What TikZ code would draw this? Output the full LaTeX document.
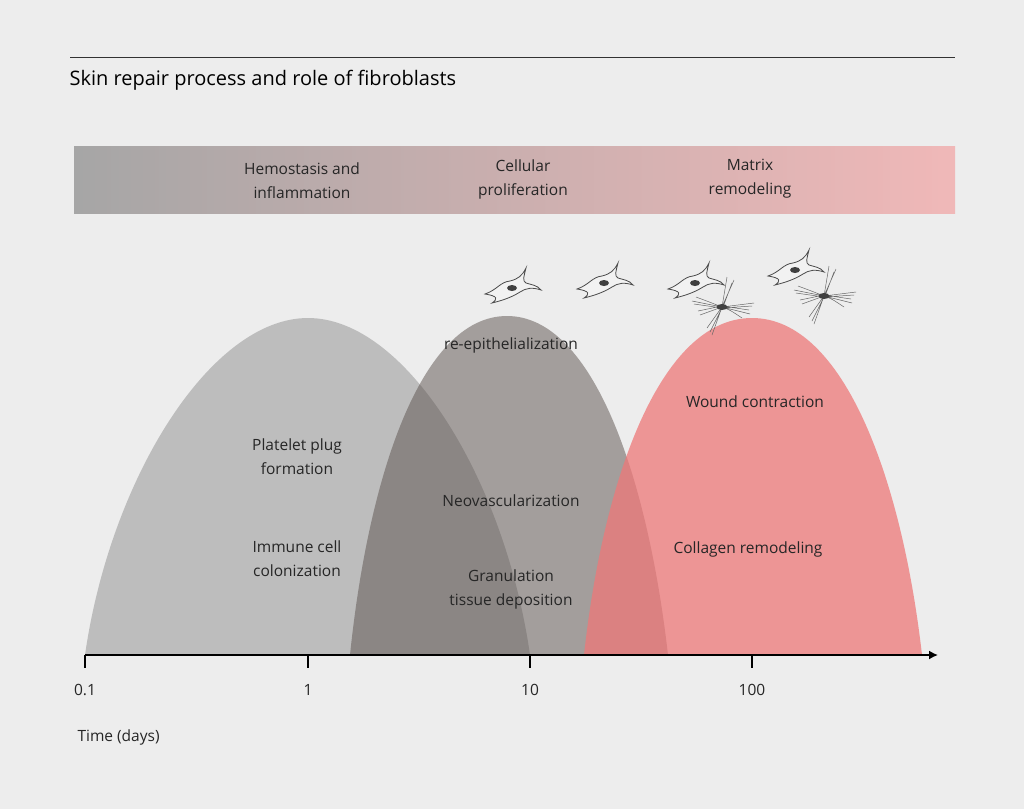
\documentclass[tikz,border=0pt]{standalone}
\usepackage{fontspec}
\setmainfont{Open Sans}
\usetikzlibrary{arrows.meta}
\begin{document}
\begin{tikzpicture}[x=1pt,y=-1pt,
  lbl/.style={font=\fontsize{15.5}{24}\selectfont, align=center, text=black!85},
  cellline/.style={draw=black!70, line width=0.8pt, fill=white!95!black},
  fibro/.pic={
    \path[cellline] (-27,6) .. controls (-15,2) and (-12,-6) .. (-2,-7)
      .. controls (6,-9) and (10,-12) .. (14,-20)
      .. controls (12,-12) and (10,-7) .. (14,-5)
      .. controls (20,-3) and (25,-3) .. (29,2)
      .. controls (20,-1) and (14,0) .. (8,4)
      .. controls (0,9) and (-8,12) .. (-20,15)
      .. controls (-14,11) and (-14,8) .. (-27,6) -- cycle;
    \fill[black!75] (0,0) ellipse (5 and 3);
  },
  stell/.pic={
    \draw[black!60, line width=0.5pt] (-30,-6) -- (0,0) -- (32,-4)
      (-22,8) -- (0,0) -- (28,7) (-10,28) -- (0,0) -- (12,-27)
      (-26,-10) .. controls (-10,-4) .. (0,0) (20,11) .. controls (8,3) .. (0,0)
      (5,-30) -- (0,0) (-15,21) -- (0,0)
      (-28,-3) -- (0,1) -- (30,-1) (-24,4) -- (0,-1) -- (27,3)
      (-12,25) -- (0,1) (10,-24) -- (1,0);
    \fill[black!75] (0,0) ellipse (5.5 and 3);
  }]
\fill[fill=black!7] (0,0) rectangle (1024,809);
\useasboundingbox (0,0) rectangle (1024,809);
\draw[black!80, line width=0.7pt] (70,57) -- (955,57);
\node[anchor=west, font=\fontsize{20}{24}\selectfont] (title) at (66,80) {Skin repair process and role of fibroblasts};
\shade[left color=black!35, right color={rgb,255:red,240;green,184;blue,184}] (74,146) rectangle (955,213);
\node[lbl] (p1) at (302,181) {Hemostasis and\\inflammation};
\node[lbl] (p2) at (523,179) {Cellular\\proliferation};
\node[lbl] (p3) at (750,179) {Matrix\\remodeling};
% curves
\fill[black, opacity=0.2] (85,655) .. controls (110,480) and (210,318) .. (308,318)
  .. controls (406,318) and (505,480) .. (530,655) -- cycle;
\fill[fill={rgb,255:red,90;green,80;blue,76}, opacity=0.5] (350,655) .. controls (368,480) and (420,316) .. (507,316)
  .. controls (594,316) and (648,480) .. (668,655) -- cycle;
\fill[fill={rgb,255:red,238;green,120;blue,120}, opacity=0.75] (584,655) .. controls (603,480) and (660,318) .. (752,318)
  .. controls (844,318) and (902,480) .. (922,655) -- cycle;
% axis
\coordinate (a0) at (85,655); \coordinate (a1) at (938,655);
\draw[line width=1.6pt, -{Latex[length=9pt,width=9pt]}] (a0) -- (a1);
\foreach \x/\t in {85/0.1,308/1,530/10,752/100}{
  \draw[line width=1.4pt] (\x,655) -- (\x,668);
  \node[lbl] at (\x,690) {\t};
}
\node[lbl, anchor=west] (time) at (74,737) {Time (days)};
% labels
\node[lbl] (l1) at (511,345) {re-epithelialization};
\node[lbl] (l2) at (297,457) {Platelet plug\\formation};
\node[lbl] (l3) at (297,559) {Immune cell\\colonization};
\node[lbl] (l4) at (511,501) {Neovascularization};
\node[lbl] (l5) at (511,589) {Granulation\\tissue deposition};
\node[lbl] (l6) at (755,402) {Wound contraction};
\node[lbl] (l7) at (748,549) {Collagen remodeling};
% cells
\pic at (512,288) {fibro};
\pic at (604,283) {fibro};
\pic at (695,283) {fibro};
\pic at (722,307) {stell};
\pic at (824,296) {stell};
\pic at (795,270) {fibro};
\end{tikzpicture}
\end{document}
